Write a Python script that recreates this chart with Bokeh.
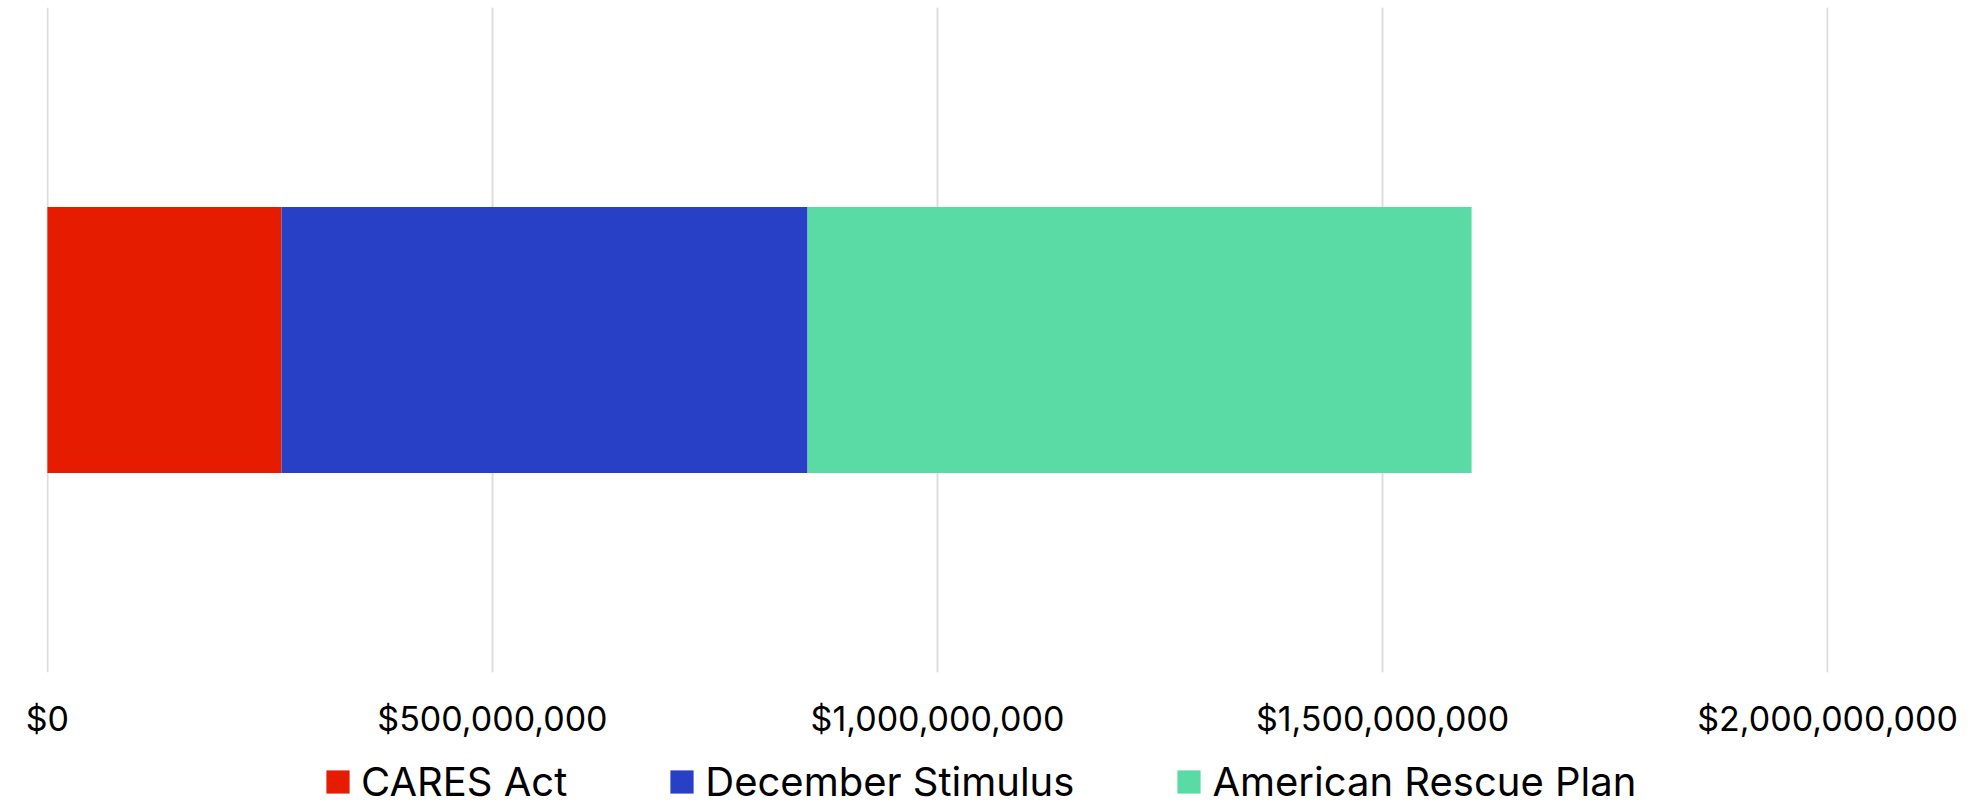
from bokeh.plotting import figure
from bokeh.layouts import column
from bokeh.models import (ColumnDataSource, FactorRange, Range1d, NumeralTickFormatter,
                          FixedTicker, Legend, LegendItem)
from bokeh.embed import file_html
from bokeh.resources import INLINE

# ---- data ----
categories = ["Total"]
series = ["CARES Act", "December Stimulus", "American Rescue Plan"]
cares_act = [263_000_000]
december_stimulus = [591_000_000]
american_rescue_plan = [746_000_000]
x_ticks = [0, 500_000_000, 1_000_000_000, 1_500_000_000, 2_000_000_000]
colors = ["#E61C00", "#2840C6", "#5ADAA4"]

source = ColumnDataSource(dict(category=categories, cares=cares_act,
                               december=december_stimulus, arp=american_rescue_plan))
stackers = ["cares", "december", "arp"]

FONT = "Inter"
pad = (x_ticks[-1] - x_ticks[0]) * 0.0005

# ---- main chart ----
p = figure(width=1977, height=745, y_range=FactorRange(factors=categories),
           x_range=Range1d(x_ticks[0] - pad, x_ticks[-1] + pad),
           output_backend="svg", toolbar_location=None,
           min_border_left=46, min_border_right=149, min_border_top=7, min_border_bottom=73)

renderers = p.hbar_stack(stackers, y="category", height=0.4,
                         fill_color=colors, line_color=None, source=source)

p.yaxis.visible = False
p.ygrid.visible = False
p.xgrid.grid_line_color = "#dddddd"
p.xgrid.grid_line_width = 2
p.outline_line_color = None

ax = p.xaxis[0]
ax.ticker = FixedTicker(ticks=x_ticks)
ax.formatter = NumeralTickFormatter(format="$0,0")
ax.axis_line_color = None
ax.major_tick_line_color = None
ax.minor_tick_line_color = None
ax.major_tick_out = 0
ax.major_tick_in = 0
ax.major_label_text_font = FONT
ax.major_label_text_font_size = "34px"
ax.major_label_text_color = "#000000"
ax.major_label_standoff = 25

# ---- legend strip (same series, swatches only) ----
lf = figure(width=1977, height=62, y_range=FactorRange(factors=categories),
            x_range=Range1d(x_ticks[0] - pad, x_ticks[-1] + pad),
            x_axis_location=None, y_axis_location=None,
            output_backend="svg", toolbar_location=None, min_border=0)
lf.grid.visible = False
lf.outline_line_color = None
proxies = lf.hbar_stack(stackers, y="category", height=0.4,
                        fill_color=colors, line_color=None, source=source)
for r in proxies:
    r.visible = False

legend = Legend(items=[LegendItem(label=s, renderers=[r]) for s, r in zip(series, proxies)],
                orientation="horizontal", location=(277, 1),
                glyph_width=29, glyph_height=29, label_standoff=9, spacing=100,
                margin=0, padding=0, border_line_color=None, background_fill_alpha=0,
                label_text_font=FONT, label_text_font_size="40px", label_text_color="#000000")
lf.add_layout(legend, "center")

layout = column(p, lf, spacing=0)
open("out.html", "w").write(file_html(layout, INLINE))
